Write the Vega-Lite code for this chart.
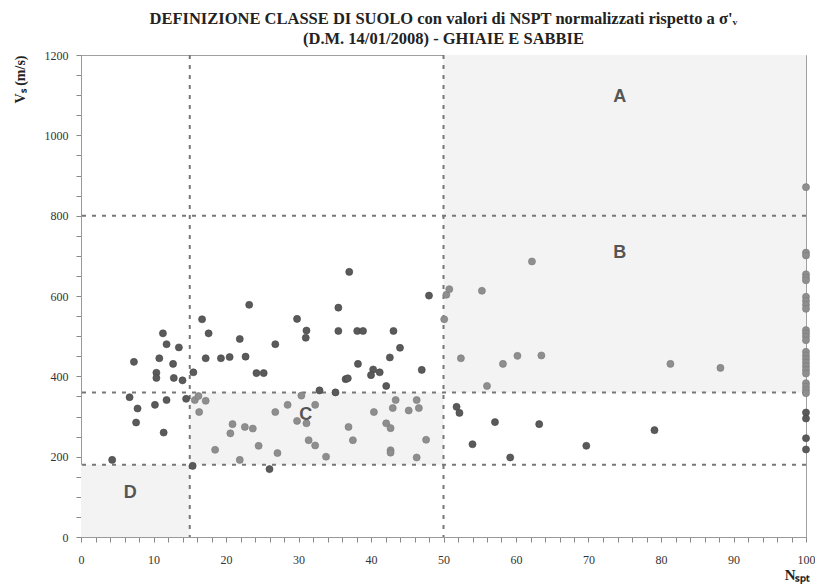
{
  "$schema": "https://vega.github.io/schema/vega-lite/v6.json",
  "width": 725,
  "height": 482,
  "autosize": "none",
  "padding": {"left": 81, "top": 55, "right": 9, "bottom": 47},
  "background": "white",
  "config": {
    "view": {"stroke": "#a0a0a0", "strokeWidth": 1},
    "axis": {"grid": false, "domainColor": "#999999", "tickColor": "#888888", "labelFont": "Liberation Serif", "labelFontSize": 12, "labelColor": "#333333", "titleFont": "Liberation Serif", "titleFontWeight": "bold", "titleColor": "#222222", "labelOverlap": false}
  },
  "title": {
    "text": ["DEFINIZIONE CLASSE DI SUOLO con valori di NSPT normalizzati rispetto a σ'ᵥ", "(D.M. 14/01/2008) - GHIAIE E SABBIE"],
    "font": "Liberation Serif", "fontSize": 16.5, "fontWeight": "bold", "color": "#222222",
    "anchor": "middle", "offset": 2, "lineHeight": 20
  },
  "datasets": {
    "zone": [
      {"x1": 50, "x2": 100, "y1": 360, "y2": 1200},
      {"x1": 15, "x2": 50, "y1": 180, "y2": 360},
      {"x1": 0, "x2": 15, "y1": 0, "y2": 180}
    ],
    "hlines": [{"y": 180}, {"y": 360}, {"y": 800}],
    "vlines": [{"x": 15}, {"x": 50}],
    "labels": [
      {"x": 74.3, "y": 1095, "t": "A"},
      {"x": 74.3, "y": 707, "t": "B"},
      {"x": 31, "y": 304, "t": "C"},
      {"x": 6.8, "y": 110, "t": "D"}
    ],
    "punti": [
      {"x": 4.3, "y": 192, "g": "scuro"}, {"x": 7.3, "y": 436, "g": "scuro"}, {"x": 6.7, "y": 348, "g": "scuro"},
      {"x": 7.8, "y": 320, "g": "scuro"}, {"x": 7.6, "y": 285, "g": "scuro"}, {"x": 11.4, "y": 260, "g": "scuro"},
      {"x": 10.4, "y": 409, "g": "scuro"}, {"x": 10.4, "y": 396, "g": "scuro"}, {"x": 11.3, "y": 507, "g": "scuro"},
      {"x": 11.8, "y": 480, "g": "scuro"}, {"x": 10.8, "y": 445, "g": "scuro"}, {"x": 10.2, "y": 329, "g": "scuro"},
      {"x": 11.8, "y": 341, "g": "scuro"}, {"x": 12.8, "y": 396, "g": "scuro"}, {"x": 12.7, "y": 431, "g": "scuro"},
      {"x": 13.5, "y": 472, "g": "scuro"}, {"x": 14.0, "y": 390, "g": "scuro"}, {"x": 14.5, "y": 344, "g": "scuro"},
      {"x": 15.5, "y": 410, "g": "scuro"}, {"x": 16.7, "y": 542, "g": "scuro"}, {"x": 17.6, "y": 507, "g": "scuro"},
      {"x": 17.2, "y": 445, "g": "scuro"}, {"x": 19.3, "y": 445, "g": "scuro"}, {"x": 20.5, "y": 448, "g": "scuro"},
      {"x": 21.9, "y": 493, "g": "scuro"}, {"x": 22.7, "y": 449, "g": "scuro"}, {"x": 23.2, "y": 578, "g": "scuro"},
      {"x": 24.2, "y": 408, "g": "scuro"}, {"x": 25.2, "y": 408, "g": "scuro"}, {"x": 15.4, "y": 177, "g": "scuro"},
      {"x": 37.0, "y": 660, "g": "scuro"}, {"x": 48.0, "y": 601, "g": "scuro"}, {"x": 35.5, "y": 571, "g": "scuro"},
      {"x": 29.8, "y": 543, "g": "scuro"}, {"x": 31.1, "y": 514, "g": "scuro"}, {"x": 31.0, "y": 496, "g": "scuro"},
      {"x": 26.8, "y": 480, "g": "scuro"}, {"x": 35.5, "y": 513, "g": "scuro"}, {"x": 38.1, "y": 513, "g": "scuro"},
      {"x": 38.9, "y": 513, "g": "scuro"}, {"x": 43.1, "y": 513, "g": "scuro"}, {"x": 44.0, "y": 471, "g": "scuro"},
      {"x": 42.6, "y": 447, "g": "scuro"}, {"x": 38.2, "y": 431, "g": "scuro"}, {"x": 40.3, "y": 417, "g": "scuro"},
      {"x": 40.0, "y": 403, "g": "scuro"}, {"x": 41.2, "y": 410, "g": "scuro"}, {"x": 47.0, "y": 416, "g": "scuro"},
      {"x": 36.5, "y": 393, "g": "scuro"}, {"x": 36.8, "y": 395, "g": "scuro"}, {"x": 42.1, "y": 376, "g": "scuro"},
      {"x": 32.9, "y": 365, "g": "scuro"}, {"x": 35.1, "y": 360, "g": "scuro"}, {"x": 26.0, "y": 169, "g": "scuro"},
      {"x": 51.8, "y": 324, "g": "scuro"}, {"x": 52.2, "y": 309, "g": "scuro"}, {"x": 57.1, "y": 286, "g": "scuro"},
      {"x": 54.0, "y": 231, "g": "scuro"}, {"x": 63.2, "y": 281, "g": "scuro"}, {"x": 59.2, "y": 198, "g": "scuro"},
      {"x": 69.7, "y": 227, "g": "scuro"}, {"x": 79.1, "y": 266, "g": "scuro"}, {"x": 100, "y": 310, "g": "scuro"},
      {"x": 100, "y": 295, "g": "scuro"}, {"x": 100, "y": 246, "g": "scuro"}, {"x": 100, "y": 218, "g": "scuro"},
      {"x": 15.7, "y": 341, "g": "chiaro"}, {"x": 16.2, "y": 351, "g": "chiaro"}, {"x": 17.2, "y": 339, "g": "chiaro"},
      {"x": 16.3, "y": 311, "g": "chiaro"}, {"x": 18.5, "y": 217, "g": "chiaro"}, {"x": 20.9, "y": 281, "g": "chiaro"},
      {"x": 20.6, "y": 258, "g": "chiaro"}, {"x": 22.6, "y": 274, "g": "chiaro"}, {"x": 23.7, "y": 270, "g": "chiaro"},
      {"x": 21.9, "y": 192, "g": "chiaro"}, {"x": 24.5, "y": 227, "g": "chiaro"}, {"x": 50.4, "y": 603, "g": "chiaro"},
      {"x": 50.8, "y": 617, "g": "chiaro"}, {"x": 55.3, "y": 613, "g": "chiaro"}, {"x": 50.1, "y": 542, "g": "chiaro"},
      {"x": 52.4, "y": 445, "g": "chiaro"}, {"x": 56.0, "y": 376, "g": "chiaro"}, {"x": 30.4, "y": 352, "g": "chiaro"},
      {"x": 28.5, "y": 329, "g": "chiaro"}, {"x": 32.3, "y": 329, "g": "chiaro"}, {"x": 26.8, "y": 311, "g": "chiaro"},
      {"x": 29.8, "y": 289, "g": "chiaro"}, {"x": 31.1, "y": 283, "g": "chiaro"}, {"x": 27.1, "y": 209, "g": "chiaro"},
      {"x": 31.4, "y": 241, "g": "chiaro"}, {"x": 32.3, "y": 228, "g": "chiaro"}, {"x": 33.8, "y": 200, "g": "chiaro"},
      {"x": 36.9, "y": 274, "g": "chiaro"}, {"x": 37.5, "y": 241, "g": "chiaro"}, {"x": 40.4, "y": 311, "g": "chiaro"},
      {"x": 42.1, "y": 283, "g": "chiaro"}, {"x": 42.7, "y": 271, "g": "chiaro"}, {"x": 42.7, "y": 216, "g": "chiaro"},
      {"x": 42.7, "y": 210, "g": "chiaro"}, {"x": 43.4, "y": 341, "g": "chiaro"}, {"x": 43.0, "y": 321, "g": "chiaro"},
      {"x": 45.2, "y": 315, "g": "chiaro"}, {"x": 46.3, "y": 341, "g": "chiaro"}, {"x": 46.6, "y": 321, "g": "chiaro"},
      {"x": 47.6, "y": 242, "g": "chiaro"}, {"x": 46.3, "y": 198, "g": "chiaro"}, {"x": 62.2, "y": 686, "g": "chiaro"},
      {"x": 58.2, "y": 431, "g": "chiaro"}, {"x": 60.2, "y": 451, "g": "chiaro"}, {"x": 63.5, "y": 452, "g": "chiaro"},
      {"x": 81.3, "y": 431, "g": "chiaro"}, {"x": 88.2, "y": 421, "g": "chiaro"},
      {"x": 100, "y": 871, "g": "chiaro"}, {"x": 100, "y": 708, "g": "chiaro"}, {"x": 100, "y": 701, "g": "chiaro"},
      {"x": 100, "y": 654, "g": "chiaro"}, {"x": 100, "y": 646, "g": "chiaro"}, {"x": 100, "y": 639, "g": "chiaro"},
      {"x": 100, "y": 598, "g": "chiaro"}, {"x": 100, "y": 588, "g": "chiaro"}, {"x": 100, "y": 578, "g": "chiaro"},
      {"x": 100, "y": 568, "g": "chiaro"}, {"x": 100, "y": 515, "g": "chiaro"}, {"x": 100, "y": 507, "g": "chiaro"},
      {"x": 100, "y": 499, "g": "chiaro"}, {"x": 100, "y": 490, "g": "chiaro"}, {"x": 100, "y": 461, "g": "chiaro"},
      {"x": 100, "y": 452, "g": "chiaro"}, {"x": 100, "y": 443, "g": "chiaro"}, {"x": 100, "y": 434, "g": "chiaro"},
      {"x": 100, "y": 425, "g": "chiaro"}, {"x": 100, "y": 416, "g": "chiaro"}, {"x": 100, "y": 407, "g": "chiaro"},
      {"x": 100, "y": 383, "g": "chiaro"}, {"x": 100, "y": 374, "g": "chiaro"}, {"x": 100, "y": 366, "g": "chiaro"},
      {"x": 100, "y": 358, "g": "chiaro"}
    ]
  },
  "layer": [
    {
      "data": {"name": "zone"},
      "mark": {"type": "rect", "fill": "#f3f3f3"},
      "encoding": {
        "x": {
          "field": "x1", "type": "quantitative",
          "scale": {"domain": [0, 100], "nice": false},
          "axis": {
            "values": [0,2,4,6,8,10,12,14,16,18,20,22,24,26,28,30,32,34,36,38,40,42,44,46,48,50,52,54,56,58,60,62,64,66,68,70,72,74,76,78,80,82,84,86,88,90,92,94,96,98,100],
            "labelExpr": "datum.value % 10 === 0 ? format(datum.value, 'd') : ''",
            "labelOverlap": false, "labelFlush": false,
            "tickSize": 5, "labelPadding": 12,
            "title": "Nₛₚₜ", "titleFontSize": 15, "titleAnchor": "end", "titleAlign": "right",
            "titleX": 729, "titleY": 42, "titleBaseline": "alphabetic"
          }
        },
        "x2": {"field": "x2"},
        "y": {
          "field": "y1", "type": "quantitative",
          "scale": {"domain": [0, 1200], "nice": false},
          "axis": {
            "values": [0,50,100,150,200,250,300,350,400,450,500,550,600,650,700,750,800,850,900,950,1000,1050,1100,1150,1200],
            "labelExpr": "datum.value % 200 === 0 ? format(datum.value, 'd') : ''",
            "labelOverlap": false,
            "tickSize": 5, "labelPadding": 8,
            "title": "Vₛ (m/s)", "titleFontSize": 14, "titleAngle": -90, "titleAlign": "right",
            "titleBaseline": "middle", "titleX": -61, "titleY": 0
          }
        },
        "y2": {"field": "y2"}
      }
    },
    {
      "data": {"name": "hlines"},
      "mark": {"type": "rule", "color": "#777777", "strokeWidth": 2, "strokeDash": [4, 6]},
      "encoding": {
        "y": {
          "field": "y", "type": "quantitative",
          "axis": {
            "values": [0,50,100,150,200,250,300,350,400,450,500,550,600,650,700,750,800,850,900,950,1000,1050,1100,1150,1200],
            "labelExpr": "datum.value % 200 === 0 ? format(datum.value, 'd') : ''",
            "labelOverlap": false,
            "tickSize": 5, "labelPadding": 8,
            "title": "Vₛ (m/s)", "titleFontSize": 14, "titleAngle": -90, "titleAlign": "right",
            "titleBaseline": "middle", "titleX": -61, "titleY": 0
          }
        }
      }
    },
    {
      "data": {"name": "vlines"},
      "mark": {"type": "rule", "color": "#777777", "strokeWidth": 2, "strokeDash": [4, 6]},
      "encoding": {
        "x": {
          "field": "x", "type": "quantitative",
          "axis": {
            "values": [0,2,4,6,8,10,12,14,16,18,20,22,24,26,28,30,32,34,36,38,40,42,44,46,48,50,52,54,56,58,60,62,64,66,68,70,72,74,76,78,80,82,84,86,88,90,92,94,96,98,100],
            "labelExpr": "datum.value % 10 === 0 ? format(datum.value, 'd') : ''",
            "labelOverlap": false, "labelFlush": false,
            "tickSize": 5, "labelPadding": 12,
            "title": "Nₛₚₜ", "titleFontSize": 15, "titleAnchor": "end", "titleAlign": "right",
            "titleX": 729, "titleY": 42, "titleBaseline": "alphabetic"
          }
        }
      }
    },
    {
      "data": {"name": "punti"},
      "mark": {"type": "circle", "size": 50, "opacity": 1, "strokeWidth": 0.6},
      "encoding": {
        "x": {
          "field": "x", "type": "quantitative",
          "axis": {
            "values": [0,2,4,6,8,10,12,14,16,18,20,22,24,26,28,30,32,34,36,38,40,42,44,46,48,50,52,54,56,58,60,62,64,66,68,70,72,74,76,78,80,82,84,86,88,90,92,94,96,98,100],
            "labelExpr": "datum.value % 10 === 0 ? format(datum.value, 'd') : ''",
            "labelOverlap": false, "labelFlush": false,
            "tickSize": 5, "labelPadding": 12,
            "title": "Nₛₚₜ", "titleFontSize": 15, "titleAnchor": "end", "titleAlign": "right",
            "titleX": 729, "titleY": 42, "titleBaseline": "alphabetic"
          }
        },
        "y": {
          "field": "y", "type": "quantitative",
          "axis": {
            "values": [0,50,100,150,200,250,300,350,400,450,500,550,600,650,700,750,800,850,900,950,1000,1050,1100,1150,1200],
            "labelExpr": "datum.value % 200 === 0 ? format(datum.value, 'd') : ''",
            "labelOverlap": false,
            "tickSize": 5, "labelPadding": 8,
            "title": "Vₛ (m/s)", "titleFontSize": 14, "titleAngle": -90, "titleAlign": "right",
            "titleBaseline": "middle", "titleX": -61, "titleY": 0
          }
        },
        "color": {"field": "g", "type": "nominal", "scale": {"domain": ["scuro", "chiaro"], "range": ["#5a5a5a", "#8e8e8e"]}, "legend": null},
        "stroke": {"field": "g", "type": "nominal", "scale": {"domain": ["scuro", "chiaro"], "range": ["#454545", "#7a7a7a"]}, "legend": null}
      }
    },
    {
      "data": {"name": "labels"},
      "mark": {"type": "text", "font": "Liberation Sans", "fontSize": 18, "fontWeight": "bold", "color": "#555555"},
      "encoding": {
        "x": {
          "field": "x", "type": "quantitative",
          "axis": {
            "values": [0,2,4,6,8,10,12,14,16,18,20,22,24,26,28,30,32,34,36,38,40,42,44,46,48,50,52,54,56,58,60,62,64,66,68,70,72,74,76,78,80,82,84,86,88,90,92,94,96,98,100],
            "labelExpr": "datum.value % 10 === 0 ? format(datum.value, 'd') : ''",
            "labelOverlap": false, "labelFlush": false,
            "tickSize": 5, "labelPadding": 12,
            "title": "Nₛₚₜ", "titleFontSize": 15, "titleAnchor": "end", "titleAlign": "right",
            "titleX": 729, "titleY": 42, "titleBaseline": "alphabetic"
          }
        },
        "y": {
          "field": "y", "type": "quantitative",
          "axis": {
            "values": [0,50,100,150,200,250,300,350,400,450,500,550,600,650,700,750,800,850,900,950,1000,1050,1100,1150,1200],
            "labelExpr": "datum.value % 200 === 0 ? format(datum.value, 'd') : ''",
            "labelOverlap": false,
            "tickSize": 5, "labelPadding": 8,
            "title": "Vₛ (m/s)", "titleFontSize": 14, "titleAngle": -90, "titleAlign": "right",
            "titleBaseline": "middle", "titleX": -61, "titleY": 0
          }
        },
        "text": {"field": "t"}
      }
    }
  ]
}
